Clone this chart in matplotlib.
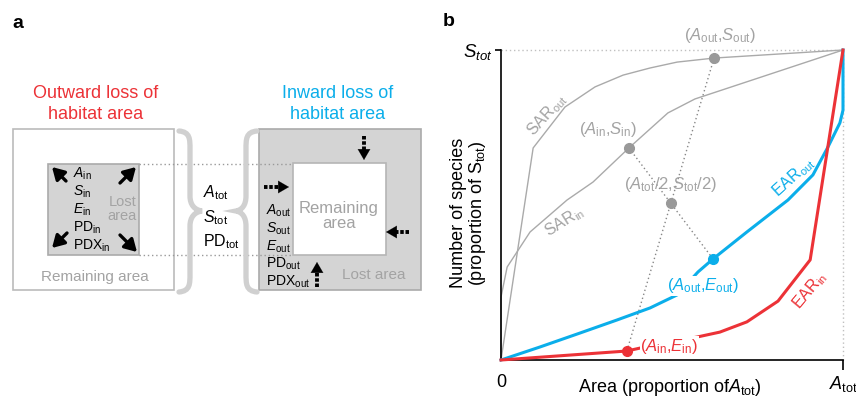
import matplotlib
matplotlib.use("Agg")
import matplotlib.pyplot as plt
from matplotlib.patches import Rectangle, FancyArrowPatch, PathPatch
from matplotlib.path import Path

plt.rcParams['font.family'] = ['Liberation Sans', 'DejaVu Sans']
plt.rcParams['mathtext.fontset'] = 'custom'
plt.rcParams['mathtext.rm'] = 'Liberation Sans'
plt.rcParams['mathtext.it'] = 'Liberation Sans:italic'
plt.rcParams['mathtext.bf'] = 'Liberation Sans:bold'

RED = '#ec3237'
BLUE = '#0baeea'
GRAY_TXT = '#a3a3a3'
GRAY_LINE = '#aaaaaa'
GRAY_FILL = '#d4d4d4'
GRAY_DOT = '#999999'

# panel b curves (x = area, y = species, both as proportion of total)
sar_out_x = [0, 0.094, 0.187, 0.275, 0.357, 0.436, 0.515, 0.623, 1.0]
sar_out_y = [0, 0.684, 0.816, 0.881, 0.919, 0.942, 0.961, 0.974, 1.0]
sar_in_x = [0, 0, 0.018, 0.085, 0.193, 0.269, 0.374, 0.488, 0.567, 1.0]
sar_in_y = [0, 0.203, 0.300, 0.413, 0.516, 0.574, 0.684, 0.797, 0.842, 1.0]
ear_out_x = [0, 0.114, 0.231, 0.339, 0.436, 0.515, 0.576, 0.620, 0.719, 0.839, 0.912, 0.956, 0.991, 1.0, 1.0]
ear_out_y = [0, 0.042, 0.087, 0.129, 0.168, 0.210, 0.284, 0.326, 0.413, 0.516, 0.597, 0.687, 0.765, 0.806, 1.0]
ear_in_x = [0, 0.368, 0.474, 0.573, 0.640, 0.719, 0.810, 0.904, 1.0]
ear_in_y = [0, 0.029, 0.055, 0.074, 0.090, 0.123, 0.190, 0.323, 1.0]

# marked points
pt_out_s = (0.623, 0.974)
pt_in_s = (0.374, 0.684)
pt_half = (0.497, 0.506)
pt_out_e = (0.620, 0.326)
pt_in_e = (0.368, 0.029)

left_box_labels = [r'$A_{\rm in}$', r'$S_{\rm in}$', r'$E_{\rm in}$', r'PD$_{\rm in}$', r'PDX$_{\rm in}$']
mid_labels = [r'$A_{\rm tot}$', r'$S_{\rm tot}$', r'PD$_{\rm tot}$']
right_box_labels = [r'$A_{\rm out}$', r'$S_{\rm out}$', r'$E_{\rm out}$', r'PD$_{\rm out}$', r'PDX$_{\rm out}$']

fig = plt.figure(figsize=(8.56, 3.97), dpi=100)

# ---------- panel a: schematic drawn in pixel coordinates ----------
axa = fig.add_axes([0, 0, 1, 1])
axa.set_xlim(0, 856)
axa.set_ylim(397, 0)
axa.axis('off')

axa.text(12, 24, 'a', fontsize=14, fontweight='bold', va='center')
axa.text(96, 104, 'Outward loss of\nhabitat area', color=RED, fontsize=13,
         ha='center', va='center', linespacing=1.25)
axa.text(338, 104, 'Inward loss of\nhabitat area', color=BLUE, fontsize=13,
         ha='center', va='center', linespacing=1.25)

HEAD = '-|>,head_length=0.55,head_width=0.32'

# left: outward loss
axa.add_patch(Rectangle((13, 129), 161, 161, fc='white', ec='#bbbbbb', lw=1.2))
axa.add_patch(Rectangle((48, 164), 91, 91, fc=GRAY_FILL, ec='#aaaaaa', lw=1.2))
for (x0, y0, x1, y1) in [(66, 181, 52, 167), (120, 183, 136, 167),
                         (67, 233, 52, 248), (120, 235, 137, 252)]:
    axa.add_patch(FancyArrowPatch((x0, y0), (x1, y1), arrowstyle=HEAD,
                                  mutation_scale=13, lw=2.4, color='black',
                                  shrinkA=0, shrinkB=0))
for i, lab in enumerate(left_box_labels):
    axa.text(73, 174 + i * 18, lab, fontsize=10, va='center')
axa.text(137, 209, 'Lost\narea', color=GRAY_TXT, fontsize=10.5, ha='right',
         va='center', linespacing=1.05)
axa.text(95, 277, 'Remaining area', color=GRAY_TXT, fontsize=11,
         ha='center', va='center')

# dotted guide lines between the two squares
for yy in (164, 255):
    axa.plot([139, 293], [yy, yy], ls=(0, (1, 2)), color='#999999', lw=1)

# braces
def brace(xe, xs, xt, top, bot, mid):
    verts = [(xe, top), (xs, top + 1), (xs, top + 8), (xs, top + 18),
             (xs, mid - 15),
             (xs, mid - 6), (xs + (xt - xs) * 0.4, mid - 1), (xt, mid),
             (xs + (xt - xs) * 0.4, mid + 1), (xs, mid + 6), (xs, mid + 15),
             (xs, bot - 18),
             (xs, bot - 8), (xs, bot - 1), (xe, bot)]
    codes = [Path.MOVETO, Path.CURVE4, Path.CURVE4, Path.CURVE4,
             Path.LINETO,
             Path.CURVE4, Path.CURVE4, Path.CURVE4,
             Path.CURVE4, Path.CURVE4, Path.CURVE4,
             Path.LINETO,
             Path.CURVE4, Path.CURVE4, Path.CURVE4]
    axa.add_patch(PathPatch(Path(verts, codes), fc='none', ec='#d0d0d0',
                            lw=3.8, capstyle='round', zorder=3))

brace(179, 190, 202, 131, 292, 211)
brace(257, 246, 236, 131, 292, 211)

for i, lab in enumerate(mid_labels):
    axa.text(203, 193 + i * 24.5, lab, fontsize=11.5, va='center', zorder=4)

# right: inward loss
axa.add_patch(Rectangle((259, 129), 162, 161, fc=GRAY_FILL, ec='#aaaaaa', lw=1.2))
axa.add_patch(Rectangle((293, 163), 93, 92, fc='white', ec='#b5b5b5', lw=1.2))
axa.text(339, 216, 'Remaining\narea', color=GRAY_TXT, fontsize=12,
         ha='center', va='center', linespacing=1.05)
axa.text(374, 275, 'Lost area', color=GRAY_TXT, fontsize=11,
         ha='center', va='center')
for i, lab in enumerate(right_box_labels):
    axa.text(266, 211 + i * 17.7, lab, fontsize=10, va='center')

def dashed_arrow(x0, y0, x1, y1):
    fx = x0 + (x1 - x0) * 0.62
    fy = y0 + (y1 - y0) * 0.62
    axa.plot([x0, fx], [y0, fy], color='black', lw=2.8, ls=(0, (0.9, 0.45)),
             solid_capstyle='butt')
    axa.add_patch(FancyArrowPatch((fx - (x1 - x0) * 0.1, fy - (y1 - y0) * 0.1), (x1, y1),
                                  arrowstyle=HEAD, mutation_scale=14, lw=0.1,
                                  color='black', shrinkA=0, shrinkB=0))

dashed_arrow(364, 136, 364, 160)
dashed_arrow(264, 187, 289, 187)
dashed_arrow(409, 232, 386, 232)
dashed_arrow(317, 287, 317, 262)

# ---------- panel b: species / endemics-area curves ----------
axa.text(443, 22, 'b', fontsize=14, fontweight='bold', va='center')

ax = fig.add_axes([501 / 856, 37 / 397, 342 / 856, 310 / 397])
ax.set_xlim(0, 1)
ax.set_ylim(0, 1)
ax.patch.set_alpha(0)
for s in ('top', 'right'):
    ax.spines[s].set_visible(False)
for s in ('left', 'bottom'):
    ax.spines[s].set_linewidth(1.2)

ax.plot([0, 1], [1, 1], ls=(0, (1, 2)), color='#c0c0c0', lw=1, clip_on=False, zorder=1)
ax.plot([1, 1], [0, 1], ls=(0, (1, 2)), color='#c0c0c0', lw=1, clip_on=False, zorder=1)

ax.plot(sar_out_x, sar_out_y, color=GRAY_LINE, lw=1, clip_on=False, zorder=2)
ax.plot(sar_in_x, sar_in_y, color=GRAY_LINE, lw=1, clip_on=False, zorder=2)
ax.plot(ear_out_x, ear_out_y, color=BLUE, lw=2.2, clip_on=False, zorder=3)
ax.plot(ear_in_x, ear_in_y, color=RED, lw=2.2, clip_on=False, zorder=3)

ax.plot([pt_out_s[0], pt_in_e[0]], [pt_out_s[1], pt_in_e[1]], ls=(0, (1, 2)),
        color='#888888', lw=1, zorder=2)
ax.plot([pt_in_s[0], pt_out_e[0]], [pt_in_s[1], pt_out_e[1]], ls=(0, (1, 2)),
        color='#888888', lw=1, zorder=2)

for p, c in [(pt_out_s, GRAY_DOT), (pt_in_s, GRAY_DOT), (pt_half, GRAY_DOT),
             (pt_out_e, BLUE), (pt_in_e, RED)]:
    ax.plot(p[0], p[1], 'o', color=c, ms=7, zorder=5, clip_on=False)

lab_kw = dict(fontsize=12, ha='center', va='center', clip_on=False, zorder=6)
ax.text(0.640, 1.048, r'($A_{\rm out}$,$S_{\rm out}$)', color=GRAY_TXT, **lab_kw)
ax.text(0.313, 0.742, r'($A_{\rm in}$,$S_{\rm in}$)', color=GRAY_TXT, **lab_kw)
ax.text(0.497, 0.565, r'($A_{\rm tot}$/2,$S_{\rm tot}$/2)', color=GRAY_TXT, **lab_kw)
ax.text(0.591, 0.239, r'($A_{\rm out}$,$E_{\rm out}$)', color=BLUE,
        bbox=dict(fc='white', ec='none', pad=0.5), **lab_kw)
ax.text(0.492, 0.045, r'($A_{\rm in}$,$E_{\rm in}$)', color=RED,
        bbox=dict(fc='white', ec='none', pad=0.5), **lab_kw)

rot_kw = dict(fontsize=11.5, ha='center', va='center', rotation_mode='anchor', zorder=6)
ax.text(0.135, 0.790, r'SAR$_{\rm out}$', color=GRAY_TXT, rotation=48, **rot_kw)
ax.text(0.184, 0.445, r'SAR$_{\rm in}$', color=GRAY_TXT, rotation=32, **rot_kw)
ax.text(0.854, 0.590, r'EAR$_{\rm out}$', color=BLUE, rotation=42, **rot_kw)
ax.text(0.904, 0.223, r'EAR$_{\rm in}$', color=RED, rotation=50, **rot_kw)

ax.set_yticks([1])
ax.set_yticklabels([r'$S_{tot}$'], fontsize=13.5)
ax.tick_params(axis='y', length=4, width=1.2, pad=2)
ax.set_xticks([0, 1])
ax.set_xticklabels(['0', r'$A_{\rm tot}$'], fontsize=13)
ax.tick_params(axis='x', length=7, width=1.2, pad=3)
ax.xaxis.get_major_ticks()[0].tick1line.set_visible(False)

ax.text(0.494, -0.088, r'Area (proportion of$A_{\rm tot}$)', fontsize=13,
        ha='center', va='center', transform=ax.transAxes, clip_on=False)
ax.text(-0.094, 0.474, 'Number of species\n' + r'(proportion of S$_{\rm tot}$)',
        fontsize=13, rotation=90, ha='center', va='center', linespacing=1.0,
        transform=ax.transAxes, clip_on=False)

fig.savefig('out.png', dpi=100)
